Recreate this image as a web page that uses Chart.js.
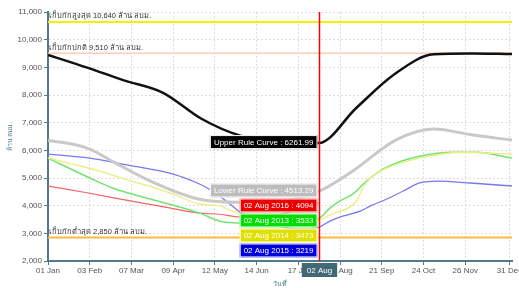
<!DOCTYPE html>
<html>
  <head>
    <title>Rule Curve</title>
    <script src="https://cdn.jsdelivr.net/npm/chart.js"></script>
    <style>
      body {
        margin: 0;
        background: #fff;
      }
    </style>
  </head>

  <body>
    <canvas id="myChart" width="519" height="288"></canvas>

    <script>
      // day of year (2016, leap) for the x axis
      const tickDays = [1, 34, 67, 100, 133, 166, 199, 232, 265, 298, 331, 366];
      const tickLabels = ["01 Jan", "03 Feb", "07 Mar", "09 Apr", "12 May", "14 Jun",
        "17 Jul", "19 Aug", "21 Sep", "24 Oct", "26 Nov", "31 Dec"];
      const yTicks = [2000, 3000, 4000, 5000, 6000, 7000, 8000, 9000, 10000, 11000];

      const upperDays = [1, 32, 61, 92, 122, 153, 183, 215, 245, 275, 306, 336, 368];
      const upperValues = [9450, 8990, 8530, 8080, 7150, 6530, 6300, 6261.99, 7540, 8750, 9470, 9500, 9480];

      const lowerDays = [1, 32, 56, 82, 120, 153, 183, 215, 242, 276, 306, 336, 368];
      const lowerValues = [6370, 6080, 5500, 4890, 4240, 4120, 4150, 4513.29, 5250, 6370, 6770, 6560, 6370];

      const y2016Days = [1, 34, 66, 98, 121, 137, 152, 170, 190, 215];
      const y2016Values = [4710, 4450, 4170, 3910, 3730, 3690, 3590, 3570, 3750, 4094];

      const y2013Days = [1, 34, 52, 82, 121, 137, 152, 175, 200, 215, 224, 232, 242, 253, 261, 274, 295, 321, 340, 368];
      const y2013Values = [5720, 5000, 4640, 4240, 3730, 3440, 3370, 3300, 3380, 3533, 3910, 4170, 4420, 4890, 5180, 5500, 5790, 5930, 5930, 5720];

      const y2014Days = [1, 21, 42, 66, 82, 100, 121, 137, 147, 175, 200, 215, 226, 238, 245, 250, 256, 269, 295, 329, 368];
      const y2014Values = [5720, 5500, 5250, 4900, 4700, 4420, 4060, 3990, 3800, 3560, 3430, 3473, 3700, 3910, 4170, 4640, 5000, 5360, 5720, 5930, 5860];

      const y2015Days = [1, 34, 60, 100, 119, 127, 139, 158, 180, 200, 215, 224, 234, 248, 256, 269, 282, 295, 309, 335, 368];
      const y2015Values = [5860, 5720, 5500, 5140, 4820, 4640, 4270, 3620, 3300, 3160, 3219, 3440, 3620, 3800, 3990, 4240, 4530, 4820, 4890, 4820, 4710];

      const levelValues = [10640, 9510, 2850];
      const levelLabels = ["เก็บกักสูงสุด 10,640 ล้าน ลบม.", "เก็บกักปกติ 9,510 ล้าน ลบม.", "เก็บกักต่ำสุด 2,850 ล้าน ลบม."];
      const levelColors = ["#f2f200", "#ffcdb5", "#ffb840"];

      const crossDay = 215;
      const crossLabel = "02 Aug";

      const FONT = "'Liberation Sans', 'Noto Sans', sans-serif";
      const AXIS = "#4f7b8b";

      function pts(days, values) {
        return days.map((d, i) => ({ x: d, y: values[i] }));
      }

      function mk(label, days, values, color, width, boxColor, tipName) {
        return {
          label: label,
          data: pts(days, values),
          borderColor: color,
          borderWidth: width,
          pointRadius: 0,
          cubicInterpolationMode: "monotone",
          boxColor: boxColor,
          tipName: tipName,
        };
      }

      const datasets = [
        mk("Lower Rule Curve", lowerDays, lowerValues, "#c9c9c9", 3, "#bdbdbd", "Lower Rule Curve"),
        mk("Upper Rule Curve", upperDays, upperValues, "#111111", 2.5, "#000000", "Upper Rule Curve"),
        mk("2015", y2015Days, y2015Values, "#7878ee", 1.3, "#0000dd", crossLabel + " 2015"),
        mk("2014", y2014Days, y2014Values, "#eded80", 1.3, "#e0e000", crossLabel + " 2014"),
        mk("2013", y2013Days, y2013Values, "#72e472", 1.5, "#00dd00", crossLabel + " 2013"),
        mk("2016", y2016Days, y2016Values, "#f56464", 1.2, "#ee0000", crossLabel + " 2016"),
      ];

      const overlay = {
        id: "overlay",
        beforeDatasetsDraw(chart) {
          const ctx = chart.ctx;
          const ys = chart.scales.y;
          const a = chart.chartArea;
          ctx.save();
          ctx.font = "7.5px " + FONT;
          ctx.textBaseline = "bottom";
          levelValues.forEach((v, i) => {
            const y = ys.getPixelForValue(v);
            ctx.strokeStyle = levelColors[i];
            ctx.lineWidth = i == 1 ? 1.5 : 2;
            ctx.beginPath();
            ctx.moveTo(a.left, y);
            ctx.lineTo(a.right, y);
            ctx.stroke();
            ctx.fillStyle = "#333";
            ctx.fillText(levelLabels[i], a.left + 1, y - 2);
          });
          ctx.restore();
        },
        afterDraw(chart) {
          const ctx = chart.ctx;
          const xs = chart.scales.x;
          const ys = chart.scales.y;
          const a = chart.chartArea;
          const cx = Math.round(xs.getPixelForValue(crossDay)) + 0.5;
          ctx.save();
          ctx.strokeStyle = "#ff0000";
          ctx.lineWidth = 1.5;
          ctx.beginPath();
          ctx.moveTo(cx, a.top);
          ctx.lineTo(cx, a.bottom);
          ctx.stroke();

          // x crosshair label
          ctx.font = "8px " + FONT;
          ctx.textAlign = "center";
          ctx.textBaseline = "middle";
          const lw = ctx.measureText(crossLabel).width + 10;
          ctx.fillStyle = "#426876";
          ctx.fillRect(cx - lw / 2, a.bottom + 2, lw, 14);
          ctx.fillStyle = "#fff";
          ctx.fillText(crossLabel, cx, a.bottom + 9.5);

          // split tooltip boxes
          const items = [];
          chart.data.datasets.forEach((ds) => {
            const p = ds.data.find((q) => q.x == crossDay);
            if (!p) return;
            const txt = ds.tipName.indexOf("Rule") >= 0
              ? ds.tipName + " : " + p.y.toFixed(2)
              : ds.tipName + " : " + Math.round(p.y);
            items.push({ y: ys.getPixelForValue(p.y), txt: txt, color: ds.boxColor });
          });
          items.sort((m, n) => m.y - n.y);
          const h = 14;
          let prev = -1000;
          ctx.font = "8px " + FONT;
          ctx.textAlign = "left";
          items.forEach((it) => {
            let top = it.y - h / 2 - 1;
            if (top < prev + 1) top = prev + 1;
            prev = top + h;
            const w = ctx.measureText(it.txt).width + 8;
            const left = cx - 2 - w;
            ctx.fillStyle = it.color;
            ctx.fillRect(left, top, w, h);
            ctx.strokeStyle = "#fff";
            ctx.lineWidth = 1;
            ctx.strokeRect(left + 0.5, top + 0.5, w - 1, h - 1);
            ctx.fillStyle = "#fff";
            ctx.fillText(it.txt, left + 4, top + h / 2 + 0.5);
          });
          ctx.restore();
        },
      };

      const config = {
        type: "line",
        data: { datasets: datasets },
        options: {
          responsive: false,
          animation: false,
          layout: { padding: { top: 12, right: 7, left: 0, bottom: 0 } },
          plugins: {
            legend: { display: false },
            tooltip: { enabled: false },
          },
          scales: {
            x: {
              type: "linear",
              min: 1,
              max: 368,
              afterBuildTicks: (scale) => {
                scale.ticks = tickDays.map((d) => ({ value: d }));
              },
              afterFit: (scale) => {
                scale.height = 27;
                scale.paddingLeft = 0;
                scale.paddingRight = 0;
              },
              ticks: {
                autoSkip: false,
                maxRotation: 0,
                padding: 1,
                color: "#555",
                font: { size: 8, family: FONT },
                callback: (v) => tickLabels[tickDays.indexOf(v)],
              },
              grid: {
                color: "#dddddd",
                tickColor: AXIS,
                tickLength: 4,
                tickBorderDash: [],
              },
              border: { color: AXIS, width: 2, dash: [2, 2] },
              title: {
                display: true,
                text: "วันที่",
                color: AXIS,
                padding: 0,
                font: { size: 7, family: FONT },
              },
            },
            y: {
              min: 2000,
              max: 11000,
              afterBuildTicks: (scale) => {
                scale.ticks = yTicks.map((v) => ({ value: v }));
              },
              afterFit: (scale) => {
                scale.width = 48;
              },
              ticks: {
                padding: 2,
                color: "#555",
                font: { size: 8, family: FONT },
                callback: (v) => v.toLocaleString("en-US"),
              },
              grid: {
                color: "#dddddd",
                tickColor: AXIS,
                tickLength: 4,
                tickBorderDash: [],
              },
              border: { color: AXIS, width: 2, dash: [2, 2] },
              title: {
                display: true,
                text: "ล้าน ลบม.",
                color: AXIS,
                padding: { top: 6, bottom: 0 },
                font: { size: 7, family: FONT },
              },
            },
          },
        },
        plugins: [overlay],
      };
    </script>

    <script>
      const myChart = new Chart(document.getElementById("myChart"), config);
    </script>
  </body>
</html>
